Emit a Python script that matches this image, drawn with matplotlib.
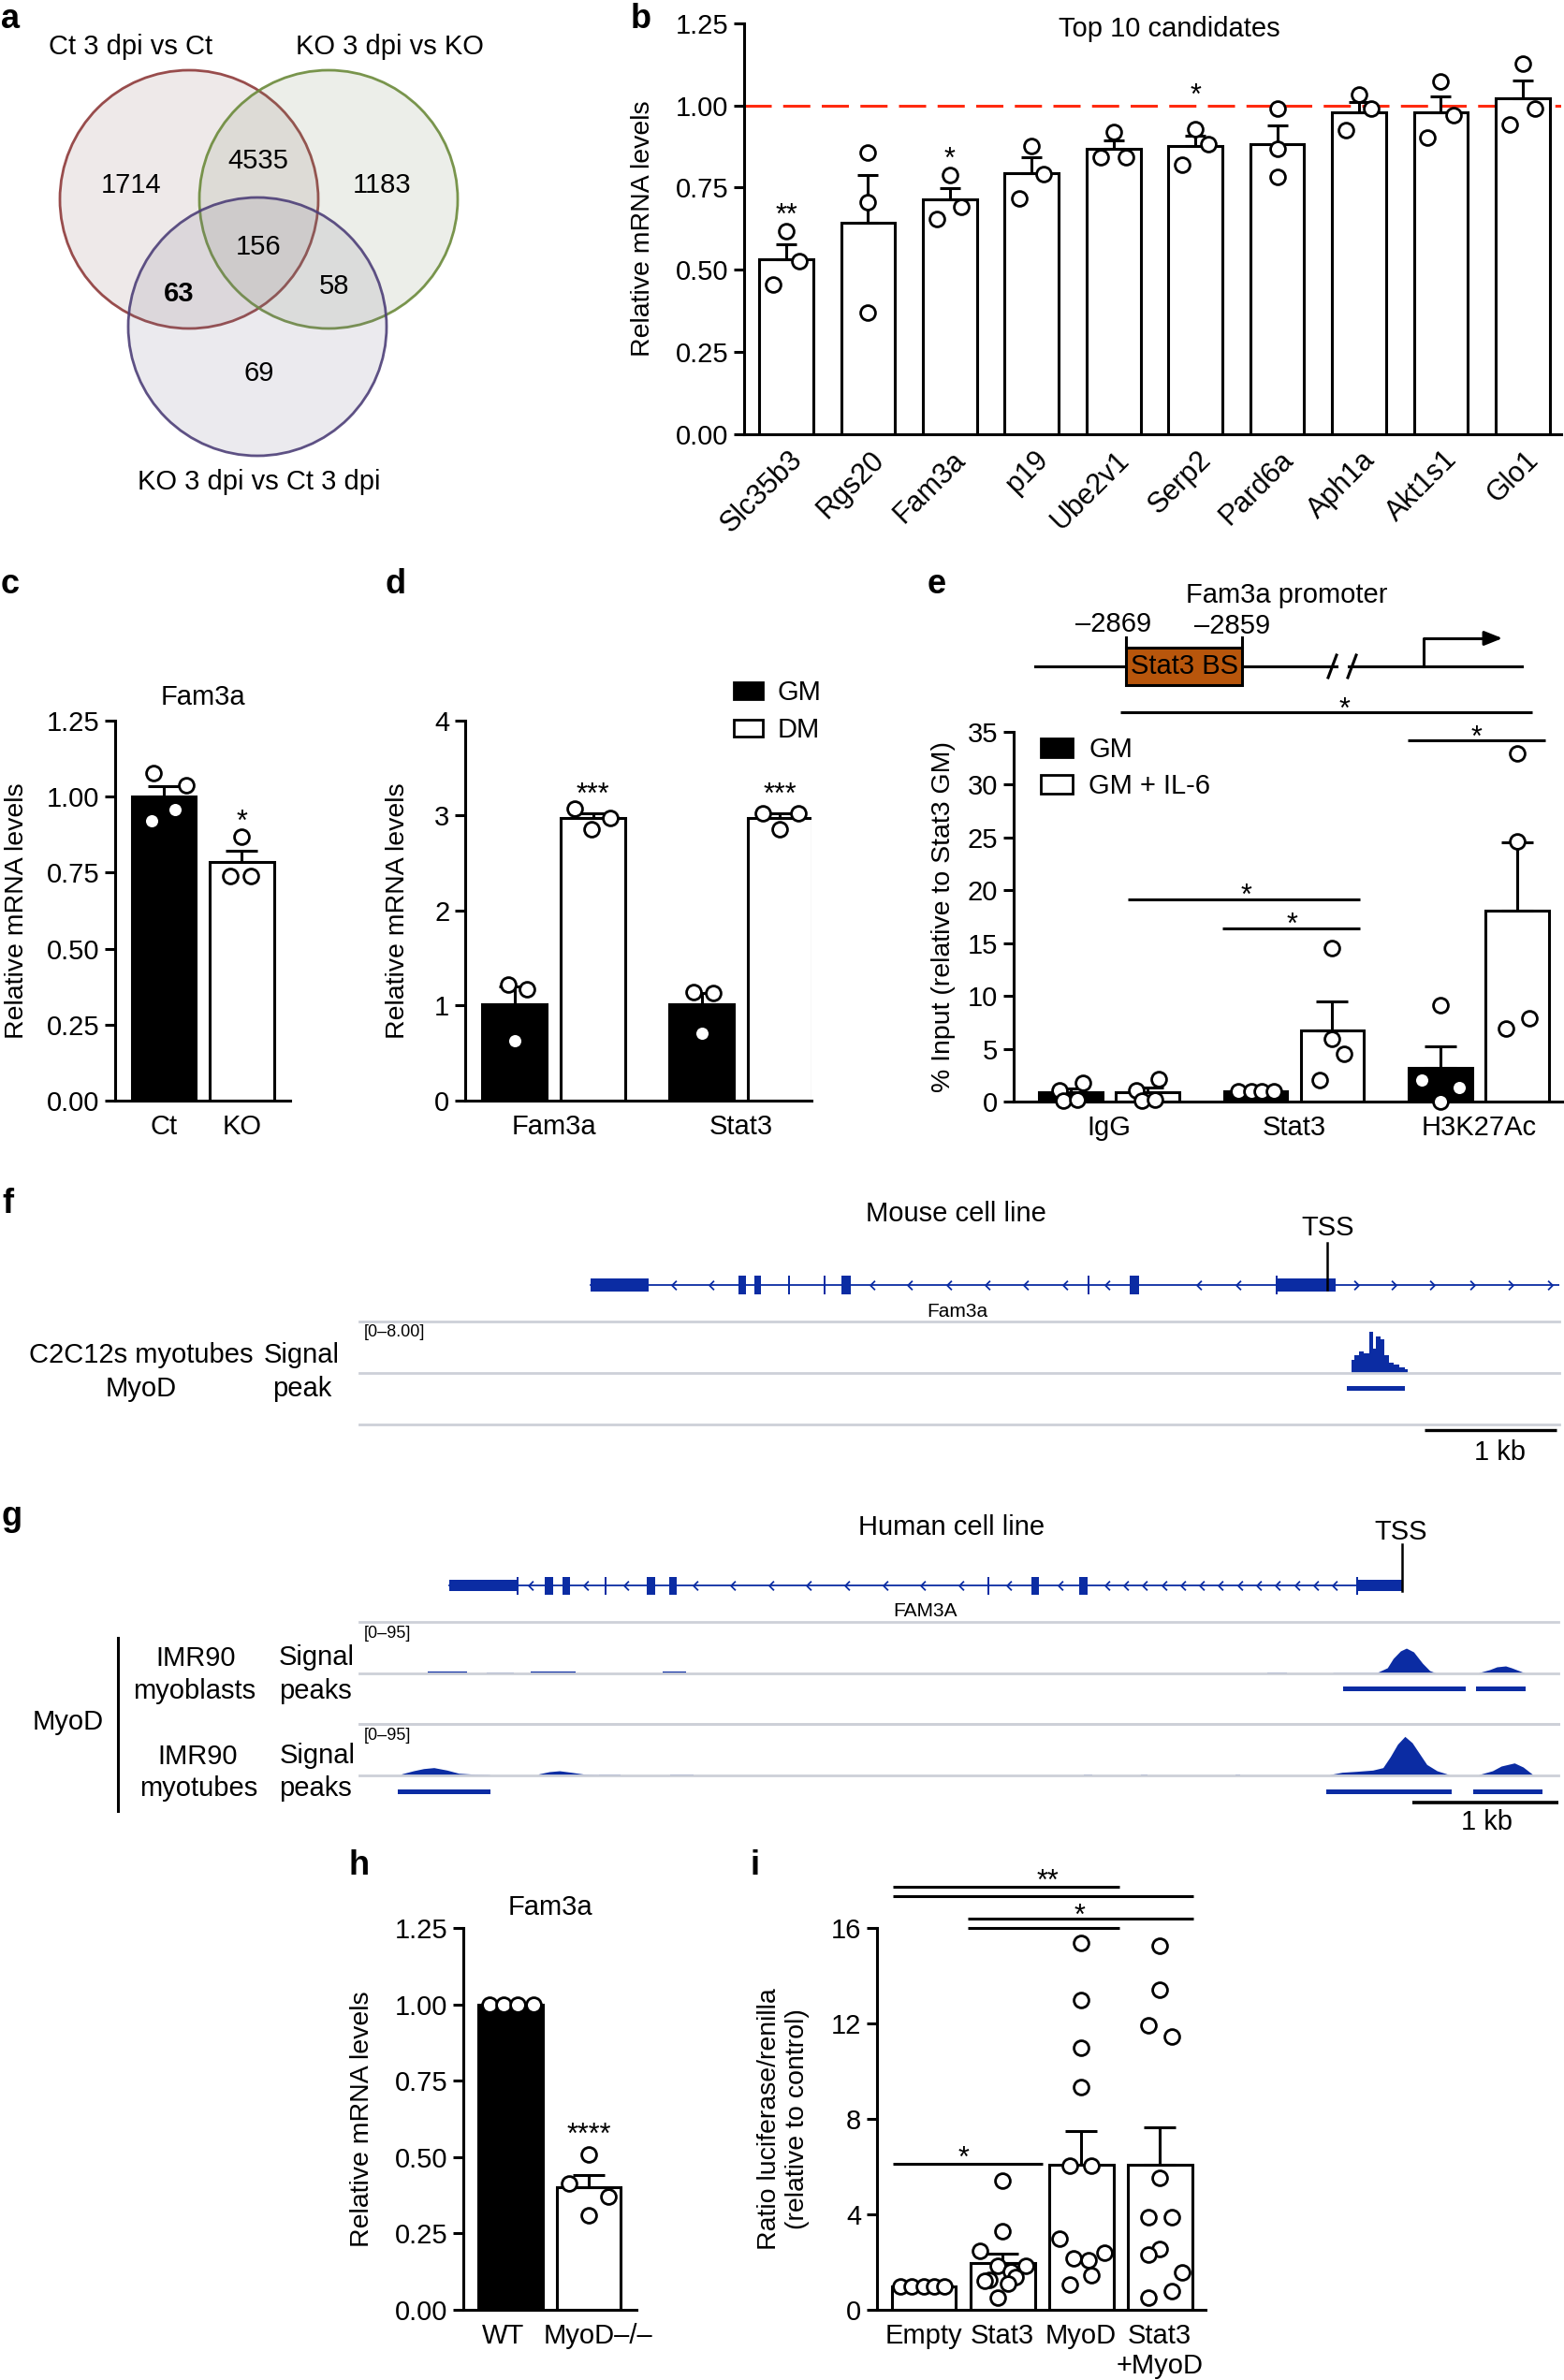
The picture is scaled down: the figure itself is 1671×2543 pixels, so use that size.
import numpy as np
import matplotlib
matplotlib.use("Agg")
import matplotlib.pyplot as plt
from matplotlib.patches import Ellipse, Rectangle, Patch
from matplotlib.path import Path
from matplotlib.colors import to_rgba
from matplotlib.transforms import ScaledTranslation

plt.rcParams["font.family"] = ["Liberation Sans", "DejaVu Sans"]
plt.rcParams["font.size"] = 21
plt.rcParams["axes.linewidth"] = 2.2

# ======================= DATA =======================
# a - Venn
venn_titles = ["Ct 3 dpi vs Ct", "KO 3 dpi vs KO", "KO 3 dpi vs Ct 3 dpi"]
venn_regions = ["100", "110", "010", "111", "101", "011", "001"]
venn_counts = [1714, 4535, 1183, 156, 63, 58, 69]

# b - top 10 candidates
b_genes = ["Slc35b3", "Rgs20", "Fam3a", "p19", "Ube2v1", "Serp2", "Pard6a", "Aph1a", "Akt1s1", "Glo1"]
b_mean = [0.532, 0.644, 0.713, 0.795, 0.867, 0.877, 0.881, 0.980, 0.980, 1.021]
b_sem = [0.046, 0.145, 0.036, 0.047, 0.028, 0.032, 0.059, 0.031, 0.048, 0.056]
b_points = [[0.616, 0.527, 0.454], [0.858, 0.705, 0.370], [0.787, 0.690, 0.654],
            [0.876, 0.790, 0.716], [0.919, 0.843, 0.843], [0.929, 0.881, 0.819],
            [0.990, 0.868, 0.784], [1.033, 0.990, 0.924], [1.072, 0.970, 0.902],
            [1.128, 0.990, 0.942]]
b_sig = ["**", "", "*", "", "", "*", "", "", "", ""]
b_sig_y = [0.69, 0, 0.863, 0, 0, 1.055, 0, 0, 0, 0]

# c
c_groups = ["Ct", "KO"]
c_mean = [1.0, 0.784]
c_sem = [0.033, 0.039]
c_points = [[1.078, 1.037, 0.957, 0.921], [0.867, 0.740, 0.740]]

# d
d_genes = ["Fam3a", "Stat3"]
d_conditions = ["GM", "DM"]
d_gm_mean = [1.012, 1.012]
d_gm_sem = [0.19, 0.12]
d_dm_mean = [2.971, 2.971]
d_dm_sem = [0.05, 0.05]
d_gm_points = [[1.224, 1.171, 0.633], [1.143, 1.135, 0.714]]
d_dm_points = [[3.073, 2.980, 2.857], [3.020, 3.020, 2.857]]

# e
e_targets = ["IgG", "Stat3", "H3K27Ac"]
e_conditions = ["GM", "GM + IL-6"]
e_gm_mean = [0.88, 0.99, 3.2]
e_gm_sem = [0.35, 0.03, 2.02]
e_il6_mean = [0.92, 6.76, 18.09]
e_il6_sem = [0.45, 2.76, 6.43]
e_gm_points = [[1.1, 1.8, 0.07, 0.15], [1.0, 1.0, 1.0, 1.0], [9.15, 2.02, 1.32, 0.0]]
e_il6_points = [[1.1, 2.1, 0.07, 0.15], [14.52, 5.96, 4.56, 2.02], [32.98, 24.6, 7.87, 6.88]]
e_sites = ["\u20132869", "\u20132859"]

# f - mouse track (kb)
f_gene_span = (1.75, 9.09)
f_utr = [(1.75, 2.19), (6.94, 7.40)]
f_exons = [(2.87, 2.93), (2.99, 3.04), (3.25, 3.265), (3.52, 3.535), (3.65, 3.72),
           (5.52, 5.535), (5.84, 5.91), (6.94, 6.955)]
f_tss = 7.33
f_sig_x = [7.52, 7.56, 7.59, 7.63, 7.67, 7.69, 7.72, 7.75, 7.78, 7.82, 7.86, 7.90, 7.94]
f_sig_y = [2.0, 2.8, 3.4, 3.0, 6.4, 3.8, 5.7, 5.2, 2.8, 1.6, 1.3, 0.9, 0.6]
f_peaks = [(7.48, 7.92)]

# g - human track (kb)
g_gene_span = (0.615, 7.14)
g_utr = [(0.615, 1.077), (6.83, 7.14)]
g_exons = [(1.077, 1.09), (1.27, 1.325), (1.39, 1.445), (1.68, 1.692), (1.97, 2.025),
           (2.12, 2.175), (4.30, 4.312), (4.60, 4.655), (4.93, 4.985), (6.83, 6.842)]
g_tss = 7.14
g_s1_profiles = [
    ([6.66, 6.67, 6.97, 7.04, 7.08, 7.13, 7.17, 7.22, 7.28, 7.33, 7.38],
     [0, 1.7, 1.7, 10.4, 27.6, 41.5, 46.6, 39.7, 19.0, 5.2, 0]),
    ([7.66, 7.67, 7.74, 7.79, 7.85, 7.89, 7.94, 7.99],
     [0, 1.7, 6.9, 12.1, 13.8, 10.4, 5.2, 0]),
]
g_s1_small = [(0.47, 0.74, 3.5), (0.87, 1.06, 2.0), (1.17, 1.48, 3.0), (2.08, 2.24, 3.0), (6.22, 6.35, 1.7)]
g_s2_profiles = [
    ([0.28, 0.29, 0.37, 0.44, 0.51, 0.60, 0.68, 0.78, 0.89, 0.90],
     [0, 2.9, 8.6, 12.6, 14.4, 9.8, 4.0, 2.3, 1.7, 0]),
    ([1.22, 1.23, 1.30, 1.37, 1.45, 1.54, 1.64],
     [0, 2.9, 6.9, 8.6, 5.8, 2.3, 1.7]),
    ([6.64, 6.65, 6.73, 6.83, 6.94, 7.01, 7.06, 7.11, 7.16, 7.21, 7.26, 7.31, 7.38, 7.46, 7.47],
     [0, 1.7, 5.8, 7.5, 9.8, 14.4, 34.5, 57.6, 72.0, 60.4, 40.3, 20.2, 8.6, 1.7, 0]),
    ([7.66, 7.67, 7.76, 7.82, 7.91, 7.97, 8.03, 8.04],
     [0, 1.7, 8.6, 17.3, 23.0, 15.5, 2.9, 0]),
]
g_s2_small = [(1.64, 1.79, 1.7), (2.13, 2.29, 1.7), (4.96, 5.02, 1.7), (5.35, 5.40, 1.7), (6.0, 6.03, 1.7)]
g_p1 = [(6.74, 7.58), (7.65, 7.99)]
g_p2 = [(0.26, 0.90), (6.62, 7.48), (7.63, 8.10)]

# h
h_groups = ["WT", "MyoD\u2013/\u2013"]
h_mean = [1.0, 0.40]
h_sem = [0.0, 0.042]
h_points = [[1.0, 1.0, 1.0, 1.0], [0.510, 0.413, 0.371, 0.308]]

# i
i_groups = ["Empty", "Stat3", "MyoD", "Stat3\n+MyoD"]
i_mean = [1.0, 1.97, 6.09, 6.09]
i_sem = [0.0, 0.37, 1.41, 1.54]
i_points = [[1.0, 1.0, 1.0, 1.0, 1.0],
            [5.41, 3.29, 2.48, 1.83, 1.83, 1.61, 1.24, 1.39, 1.10, 0.51, 1.2],
            [15.39, 13.0, 11.0, 9.35, 6.02, 6.02, 3.0, 2.41, 2.15, 2.09, 1.46, 1.05],
            [15.24, 13.4, 11.94, 11.44, 5.52, 3.87, 3.87, 2.56, 2.31, 1.56, 0.77, 0.51]]

# ======================= LAYOUT / STYLE =======================
W, H = 1671, 2543
fig = plt.figure(figsize=(W / 100, H / 100), dpi=100)
LW = 2.2
FS = 21
BLUE = "#0b2ca3"
SEP = "#cdd0d8"


def add_ax(x0, y0, x1, y1):
    ax = fig.add_axes([x0 / W, 1 - y1 / H, (x1 - x0) / W, (y1 - y0) / H])
    ax.set_facecolor("none")
    return ax


ov = add_ax(0, 0, W, H)
ov.set_xlim(0, W)
ov.set_ylim(H, 0)
ov.axis("off")


def T(x, y, s, size=FS, ha="center", **kw):
    ov.text(x, y, s, fontsize=size, ha=ha, va="baseline", **kw)


def style_axes(ax, ylim, yticks, fmt):
    ax.spines[["top", "right"]].set_visible(False)
    ax.set_ylim(*ylim)
    ax.set_yticks(yticks)
    ax.set_yticklabels([fmt.format(v) for v in yticks])
    ax.tick_params(axis="y", length=8, width=LW, pad=4, labelsize=FS)
    ax.tick_params(axis="x", length=0, pad=10, labelsize=FS)


def draw_bars(ax, xs, means, sems, points, jitter, face, width=0.82, capsize=12):
    ax.bar(xs, means, width=width, color=face, edgecolor="black", linewidth=LW, zorder=2)
    for x, m, s in zip(xs, means, sems):
        if s > 0:
            ax.errorbar([x], [m], yerr=[[0], [s]], fmt="none", ecolor="black",
                        elinewidth=LW, capsize=capsize, capthick=LW, zorder=3)
    for x, pts, jit in zip(xs, points, jitter):
        ax.scatter(np.asarray(jit) + x, pts, s=130, facecolor="white", edgecolor="black",
                   linewidth=2.0, zorder=4, clip_on=False)


def star(ax, x, y, s, size=22):
    ax.annotate(s, xy=(x, y), xytext=(0, -0.58 * size), textcoords="offset points",
                ha="center", va="baseline", fontsize=size, annotation_clip=False)


def ylabel_px(ax, text, x_right, x0, x1):
    ax.set_ylabel(text, fontsize=20.5)
    ax.yaxis.set_label_coords((x_right - x0) / (x1 - x0), 0.5)


def shift_labels(ax, dx_px):
    for lab, dx in zip(ax.get_xticklabels(), dx_px):
        lab.set_transform(lab.get_transform() + ScaledTranslation(dx / 100, 0, fig.dpi_scale_trans))


# panel letters
for L, (x, y) in zip("abcdefghi", [(11, 30), (685, 30), (11, 634), (423, 634), (1001, 634),
                                   (8, 1296), (13, 1630), (384, 2003), (806, 2003)]):
    T(x, y, L, size=26, weight="bold")

# ---------------- a: Venn ----------------
circles = [(202, 213, 138, "#8e3a3a", "#8c6464"),
           (351, 213, 138, "#6b8a3a", "#7a8c64"),
           (275, 349, 138, "#4d3f78", "#74708c")]
for cx, cy, r, ec, fc in circles:
    ov.add_patch(Ellipse((cx, cy), 2 * r, 2 * r, facecolor=to_rgba(fc, 0.14),
                         edgecolor=to_rgba(ec, 0.9), linewidth=2.0))
for s, (x, y) in zip(venn_titles, [(140, 58), (416, 58), (277, 523)]):
    T(x, y, s)
venn_pos = {"100": (140, 206), "110": (276, 180), "010": (408, 206), "111": (276, 272),
            "101": (191, 322), "011": (357, 314), "001": (277, 407)}
for reg, cnt in zip(venn_regions, venn_counts):
    x, y = venn_pos[reg]
    T(x, y, str(cnt), weight="bold" if reg == "101" else "normal")

# ---------------- b ----------------
x0, y0, x1, y1 = 795, 25, 1668, 463.6
axb = add_ax(x0, y0, x1, y1)
style_axes(axb, (0, 1.25), [0, 0.25, 0.5, 0.75, 1.0, 1.25], "{:.2f}")
xb = np.arange(len(b_genes))
b_jit = [[0, 0.16, -0.16], [0, 0, 0], [0, 0.14, -0.16], [0, 0.15, -0.15], [0, -0.16, 0.15],
         [0, 0.16, -0.16], [0, 0, 0], [0, 0.15, -0.16], [0, 0.15, -0.16], [0, 0.15, -0.16]]
draw_bars(axb, xb, b_mean, b_sem, b_points, b_jit, "white", width=0.66, capsize=8)
axb.axhline(1.0, color="#ff2a10", lw=2.2, ls=(0, (9.5, 4)), zorder=1)
axb.set_xlim(-0.515, 9.47)
axb.set_xticks(xb)
axb.set_xticklabels(b_genes, rotation=45, ha="right", rotation_mode="anchor", fontsize=22)
axb.tick_params(axis="x", pad=9)
shift_labels(axb, [2] * len(b_genes))
for x, s, y in zip(xb, b_sig, b_sig_y):
    if s:
        star(axb, x, y, s)
axb.text(0.52, 0.968, "Top 10 candidates", transform=axb.transAxes, ha="center",
         va="baseline", fontsize=FS)
ylabel_px(axb, "Relative mRNA levels", 700, x0, x1)

# ---------------- c ----------------
x0, y0, x1, y1 = 123, 770, 310, 1176
axc = add_ax(x0, y0, x1, y1)
style_axes(axc, (0, 1.25), [0, 0.25, 0.5, 0.75, 1.0, 1.25], "{:.2f}")
c_jit = [[-0.14, 0.28, 0.14, -0.16], [0, -0.15, 0.12]]
draw_bars(axc, [0, 1], c_mean, c_sem, c_points, c_jit, ["black", "white"])
axc.set_xlim(-0.63, 1.62)
axc.set_xticks([0, 1])
axc.set_xticklabels(c_groups)
star(axc, 1, 0.944, "*")
axc.set_title("Fam3a", fontsize=FS, pad=12)
ylabel_px(axc, "Relative mRNA levels", 31, x0, x1)

# ---------------- d ----------------
x0, y0, x1, y1 = 497, 770, 867, 1176
axd = add_ax(x0, y0, x1, y1)
style_axes(axd, (0, 4), [0, 1, 2, 3, 4], "{:d}")
d_centers = np.array([0.5, 2.88])
draw_bars(axd, d_centers - 0.5, d_gm_mean, d_gm_sem, d_gm_points,
          [[-0.08, 0.16, 0], [-0.1, 0.15, 0]], "black")
draw_bars(axd, d_centers + 0.5, d_dm_mean, d_dm_sem, d_dm_points,
          [[-0.24, 0.22, -0.02], [-0.22, 0.23, 0]], "white")
axd.set_xlim(-0.63, 3.78)
axd.set_xticks(d_centers)
axd.set_xticklabels(d_genes)
for x in d_centers + 0.5:
    star(axd, x, 3.306, "***")
ylabel_px(axd, "Relative mRNA levels", 438, x0, x1)
axd.legend(handles=[Patch(facecolor="black", edgecolor="black", lw=2),
                    Patch(facecolor="white", edgecolor="black", lw=2)],
           labels=d_conditions, loc="upper left", bbox_to_anchor=(784 / W, 1 - 726 / H),
           bbox_transform=fig.transFigure, frameon=False, fontsize=FS, handlelength=1.05,
           handleheight=0.58, handletextpad=0.55, labelspacing=0.42, borderpad=0, borderaxespad=0)

# ---------------- e ----------------
x0, y0, x1, y1 = 1083, 782, 1671, 1177
axe = add_ax(x0, y0, x1, y1)
style_axes(axe, (0, 35), [0, 5, 10, 15, 20, 25, 30, 35], "{:d}")
e_centers = np.array([0.5, 2.91, 5.32])
draw_bars(axe, e_centers - 0.5, e_gm_mean, e_gm_sem, e_gm_points,
          [[-0.15, 0.16, -0.10, 0.09], [-0.23, -0.06, 0.08, 0.24], [0, -0.25, 0.24, 0]], "black")
draw_bars(axe, e_centers + 0.5, e_il6_mean, e_il6_sem, e_il6_points,
          [[-0.15, 0.15, -0.07, 0.1], [0, 0, 0.15, -0.17], [0, 0, 0.16, -0.15]], "white")
axe.set_xlim(-0.744, 6.43)
axe.set_xticks(e_centers)
axe.set_xticklabels(e_targets)
for xa, xb2, y, xs, ys in [(0.646, 6.01, 36.86, 3.57, 37.9), (4.39, 6.18, 34.2, 5.29, 35.27),
                           (0.744, 3.77, 19.14, 2.29, 20.29), (1.98, 3.77, 16.39, 2.89, 17.54)]:
    axe.plot([xa, xb2], [y, y], color="black", lw=LW, clip_on=False, solid_capstyle="butt")
    star(axe, xs, ys, "*")
ylabel_px(axe, "% Input (relative to Stat3 GM)", 1021, x0, x1)
axe.legend(handles=[Patch(facecolor="black", edgecolor="black", lw=2),
                    Patch(facecolor="white", edgecolor="black", lw=2)],
           labels=e_conditions, loc="upper left", bbox_to_anchor=(1112 / W, 1 - 787 / H),
           bbox_transform=fig.transFigure, frameon=False, fontsize=FS, handlelength=1.15,
           handleheight=0.66, handletextpad=0.6, labelspacing=0.38, borderpad=0, borderaxespad=0)
# promoter schematic
ov.plot([1106, 1428], [712, 712], color="black", lw=LW)
ov.plot([1441, 1626], [712, 712], color="black", lw=LW)
ov.plot([1419, 1428], [724, 700], color="black", lw=LW)
ov.plot([1440, 1449], [724, 700], color="black", lw=LW)
ov.add_patch(Rectangle((1203, 692), 124, 40, facecolor="#b8560c", edgecolor="black", lw=LW, zorder=3))
ov.text(1265, 712, "Stat3 BS", fontsize=FS, ha="center", va="center", zorder=4)
ov.plot([1203, 1203], [681, 692], color="black", lw=LW)
ov.plot([1327, 1327], [681, 692], color="black", lw=LW)
T(1190, 675, e_sites[0])
T(1317, 677, e_sites[1])
ov.plot([1521, 1521, 1598], [712, 682, 682], color="black", lw=LW)
ov.annotate("", xy=(1608, 682), xytext=(1594, 682),
            arrowprops=dict(arrowstyle="-|>,head_length=0.55,head_width=0.22", color="black", lw=LW))
T(1375, 644, "Fam3a promoter")

# ---------------- f / g tracks ----------------
chev_l = Path([(0.5, 1.0), (-0.5, 0.0), (0.5, -1.0)], [Path.MOVETO, Path.LINETO, Path.LINETO])
chev_r = Path([(-0.5, 1.0), (0.5, 0.0), (-0.5, -1.0)], [Path.MOVETO, Path.LINETO, Path.LINETO])


def gene_track(ax, span, utr, exons, yc, tall, thick, chev_sets):
    ax.plot(span, [yc, yc], color=BLUE, lw=1.3)
    for s, e in utr:
        ax.add_patch(Rectangle((s, yc - thick), e - s, 2 * thick, color=BLUE, lw=0))
    for s, e in exons:
        ax.add_patch(Rectangle((s, yc - tall), e - s, 2 * tall, color=BLUE, lw=0))
    for xs, mk in chev_sets:
        ax.plot(xs, [yc] * len(xs), ls="none", marker=mk, ms=7, mew=1.3, mec=BLUE, mfc="none")


def track_axes(x0, y0, x1, y1, xlim, ylim, top=False, bottom=False):
    ax = add_ax(x0, y0, x1, y1)
    ax.set_xlim(*xlim)
    ax.set_ylim(*ylim)
    ax.set_xticks([])
    ax.set_yticks([])
    for sp in ["left", "right"]:
        ax.spines[sp].set_visible(False)
    ax.spines["top"].set_visible(top)
    ax.spines["bottom"].set_visible(bottom)
    for sp in ["top", "bottom"]:
        ax.spines[sp].set_color(SEP)
        ax.spines[sp].set_linewidth(2.0)
    return ax


# f
fx = (0, (1666 - 384) / 141)
fg = track_axes(384, 1290, 1666, 1410, fx, (1410, 1290))
fg.axis("off")
f_chev_left = [2.38, 2.67, 3.89, 4.17, 4.47, 4.76, 5.05, 5.35, 5.67, 6.36, 6.66]
f_chev_right = [7.55, 7.84, 8.13, 8.43, 8.72, 9.02]
gene_track(fg, f_gene_span, f_utr, f_exons, 1373, 10, 7, [(f_chev_left, chev_l), (f_chev_right, chev_r)])
fg.plot([f_tss, f_tss], [1328, 1378], color="black", lw=1.8, clip_on=False)
fg.text(f_tss + 0.01, 1320, "TSS", fontsize=FS, ha="center", va="baseline")
T(1021, 1305, "Mouse cell line")
T(1023, 1407, "Fam3a", size=15)
fs = track_axes(384, 1412, 1666, 1467, fx, (0, 8), top=True, bottom=True)
fs.fill_between(f_sig_x, 0, f_sig_y, step="mid", color=BLUE, lw=0)
fs.text(0.004, 0.95, "[0\u20138.00]", transform=fs.transAxes, fontsize=13, va="top", ha="left")
fp = track_axes(384, 1467, 1666, 1522, fx, (1522, 1467), bottom=True)
for s, e in f_peaks:
    fp.add_patch(Rectangle((s, 1481), e - s, 5, color=BLUE, lw=0))
fp.plot([8.07, 9.07], [1528, 1528], color="black", lw=2.4, clip_on=False, solid_capstyle="butt")
fp.text(8.64, 1560, "1 kb", fontsize=FS, ha="center", va="baseline")
T(151, 1456, "C2C12s myotubes")
T(322, 1456, "Signal")
T(151, 1492, "MyoD")
T(323, 1492, "peak")

# g
gx = (0, (1665 - 384) / 156)
gg = track_axes(384, 1610, 1665, 1730, gx, (1730, 1610))
gg.axis("off")
g_chev1 = [1.17, 1.55, 1.83, 2.30, 2.56, 2.82, 3.08, 3.34, 3.60, 3.86, 4.12, 4.45, 4.80]
g_chev2 = [5.12, 5.25, 5.38, 5.51, 5.64, 5.77, 5.90, 6.03, 6.16, 6.29, 6.42, 6.55, 6.68]
gene_track(gg, g_gene_span, g_utr, g_exons, 1694, 9.5, 6, [(g_chev1, chev_l), (g_chev2, chev_l)])
gg.plot([g_tss, g_tss], [1650, 1700], color="black", lw=1.8, clip_on=False)
gg.text(g_tss - 0.01, 1645, "TSS", fontsize=FS, ha="center", va="baseline")
T(1017, 1640, "Human cell line")
T(988, 1727, "FAM3A", size=15)

for (ya, yb), profiles, small, rng in [((1733, 1788), g_s1_profiles, g_s1_small, "[0\u201395]"),
                                      ((1842, 1897), g_s2_profiles, g_s2_small, "[0\u201395]")]:
    sa = track_axes(384, ya, 1665, yb, gx, (0, 95), top=True, bottom=True)
    for px, py in profiles:
        sa.fill_between(px, 0, py, color=BLUE, lw=0)
    for s, e, hgt in small:
        sa.fill_between([s, e], 0, [hgt, hgt], color=BLUE, lw=0)
    sa.text(0.004, 0.93, rng, transform=sa.transAxes, fontsize=13, va="top", ha="left")

gp1 = track_axes(384, 1788, 1665, 1842, gx, (1842, 1788), bottom=True)
for s, e in g_p1:
    gp1.add_patch(Rectangle((s, 1801.5), e - s, 5, color=BLUE, lw=0))
gp2 = track_axes(384, 1897, 1665, 1960, gx, (1960, 1897))
for s, e in g_p2:
    gp2.add_patch(Rectangle((s, 1911.5), e - s, 5, color=BLUE, lw=0))
gp2.plot([7.21, 8.21], [1926, 1926], color="black", lw=2.6, clip_on=False, solid_capstyle="butt")
gp2.text(7.72, 1955, "1 kb", fontsize=FS, ha="center", va="baseline")

ov.plot([126, 126], [1750, 1935], color="black", lw=2.2)
T(73, 1848, "MyoD")
T(209, 1780, "IMR90")
T(338, 1779, "Signal")
T(208, 1815, "myoblasts")
T(337, 1815, "peaks")
T(211, 1885, "IMR90")
T(339, 1884, "Signal")
T(212, 1919, "myotubes")
T(337, 1919, "peaks")

# ---------------- h ----------------
x0, y0, x1, y1 = 495, 2060, 680, 2468
axh = add_ax(x0, y0, x1, y1)
style_axes(axh, (0, 1.25), [0, 0.25, 0.5, 0.75, 1.0, 1.25], "{:.2f}")
draw_bars(axh, [0, 1], h_mean, h_sem, h_points,
          [[-0.265, -0.086, 0.094, 0.29], [0, -0.25, 0.25, 0]], ["black", "white"])
axh.set_xlim(-0.605, 1.61)
axh.set_xticks([0, 1])
axh.set_xticklabels(h_groups)
shift_labels(axh, [-8, 10])
star(axh, 1, 0.599, "****")
axh.set_title("Fam3a", fontsize=FS, pad=10)
ylabel_px(axh, "Relative mRNA levels", 400, x0, x1)

# ---------------- i ----------------
x0, y0, x1, y1 = 937, 2060, 1288, 2468
axi = add_ax(x0, y0, x1, y1)
style_axes(axi, (0, 16), [0, 4, 8, 12, 16], "{:d}")
i_jit = [[-0.30, -0.15, 0, 0.13, 0.26],
         [0, 0, -0.29, -0.06, 0.30, 0.11, -0.17, 0.17, 0.07, -0.06, -0.23],
         [0, 0, 0, 0, -0.14, 0.13, -0.27, 0.30, -0.10, 0.09, 0.13, -0.14],
         [0, 0, -0.14, 0.15, 0, -0.14, 0.15, 0, -0.14, 0.28, 0.15, -0.14]]
draw_bars(axi, np.arange(4), i_mean, i_sem, i_points, i_jit, "white")
axi.set_xlim(-0.595, 3.58)
axi.set_xticks(np.arange(4))
axi.set_xticklabels(i_groups)
for xa, xb2, y in [(-0.39, 2.48, 17.73), (-0.39, 3.43, 17.35), (0.56, 3.43, 16.39),
                   (0.56, 2.48, 16.0), (-0.39, 1.51, 6.1)]:
    axi.plot([xa, xb2], [y, y], color="black", lw=LW, clip_on=False, solid_capstyle="butt")
star(axi, 1.57, 18.31, "**")
star(axi, 1.98, 16.86, "*")
star(axi, 0.5, 6.71, "*")
ylabel_px(axi, "Ratio luciferase/renilla\n(relative to control)", 865, x0, x1)

fig.savefig("out.png", dpi=100)
